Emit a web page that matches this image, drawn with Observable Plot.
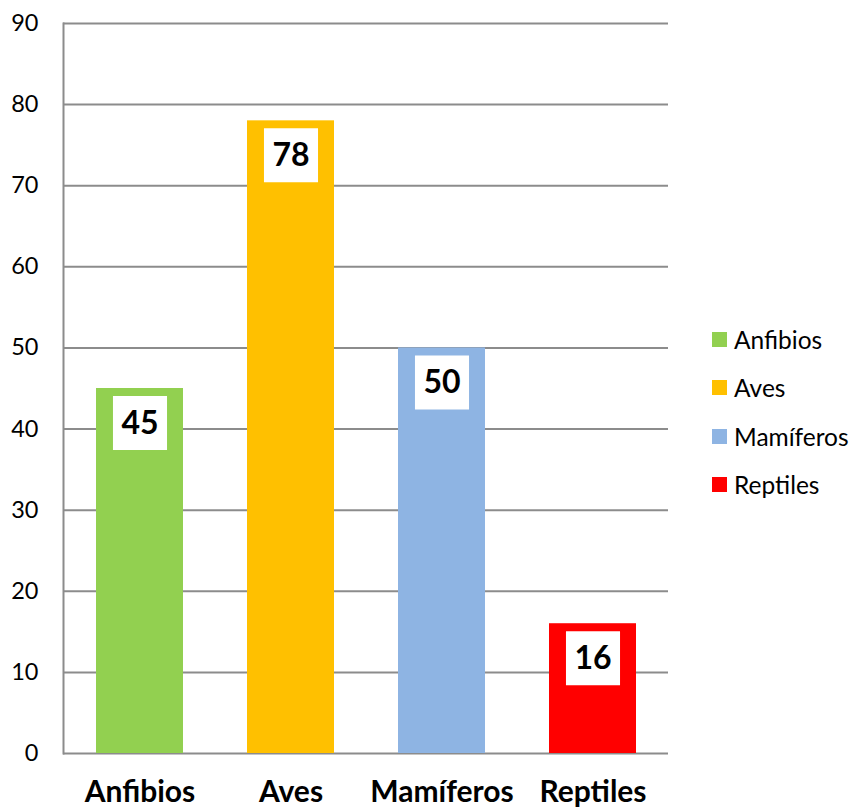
<!DOCTYPE html>
<html>
<head>
<meta charset="utf-8">
<script src="https://cdn.jsdelivr.net/npm/d3@7"></script>
<script src="https://cdn.jsdelivr.net/npm/@observablehq/plot@0.6"></script>
<style>
  body { margin: 0; background: #fff; font-family: Lato, "Open Sans", sans-serif; }
  #wrap { position: relative; width: 854px; height: 810px; }
  #legend { position: absolute; left: 712px; top: 315px; font-family: Lato, "Open Sans", sans-serif; font-size: 24.5px; color: #000; }
  .item { display: flex; align-items: center; height: 48.5px; white-space: nowrap; }
  .sw { width: 15px; height: 15px; margin-right: 7px; flex: none; }
</style>
</head>
<body>
<div id="wrap"></div>
<script>
const categories = ["Anfibios", "Aves", "Mamíferos", "Reptiles"];
const values = [45, 78, 50, 16];
const colors = ["#92D050", "#FFC000", "#8EB4E3", "#FF0000"];
const yTicks = [0, 10, 20, 30, 40, 50, 60, 70, 80, 90];

const data = categories.map((c, i) => ({cat: c, value: values[i]}));
const grid = "#8c8c8c";

const chart = Plot.plot({
  width: 854,
  height: 810,
  marginLeft: 63,
  marginRight: 186,
  marginTop: 23,
  marginBottom: 57,
  style: {fontFamily: "Lato, 'Open Sans', sans-serif", background: "#fff"},
  x: {domain: categories, paddingInner: 0.425, paddingOuter: 0.2125, label: null},
  y: {domain: [0, 90], label: null},
  color: {domain: categories, range: colors},
  marks: [
    Plot.ruleY(yTicks, {stroke: grid, strokeWidth: 2}),
    Plot.frame({anchor: "left", stroke: grid, strokeWidth: 2}),
    Plot.barY(data, {x: "cat", y: "value", fill: "cat"}),
    Plot.dot(data, {x: "cat", y: "value", symbol: "square", r: 30.5, fill: "white", stroke: null, dy: 34.5}),
    Plot.text(data, {x: "cat", y: "value", text: d => String(d.value), dy: 35, fontSize: 32, fontWeight: "bold", fill: "#000"}),
    Plot.axisY(yTicks, {tickSize: 0, tickPadding: 25, fontSize: 23.5, fill: "#000", label: null}),
    Plot.axisX({tickSize: 0, tickPadding: 27, fontSize: 30, fontWeight: "bold", fill: "#000", label: null})
  ]
});

const wrap = document.getElementById("wrap");
wrap.appendChild(chart);

const legend = document.createElement("div");
legend.id = "legend";
categories.forEach((c, i) => {
  const item = document.createElement("div");
  item.className = "item";
  const sw = document.createElement("div");
  sw.className = "sw";
  sw.style.background = colors[i];
  const lab = document.createElement("span");
  lab.textContent = c;
  item.appendChild(sw);
  item.appendChild(lab);
  legend.appendChild(item);
});
wrap.appendChild(legend);
</script>
</body>
</html>
